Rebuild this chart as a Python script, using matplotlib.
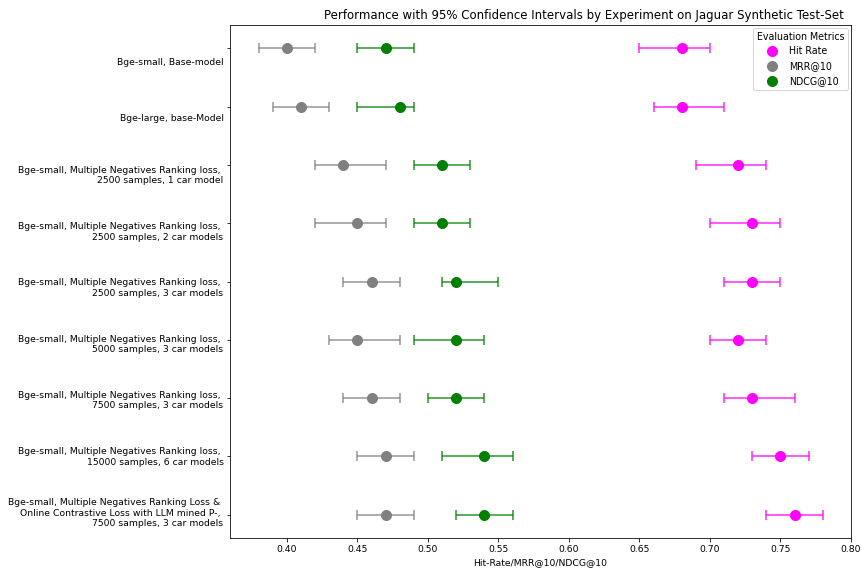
import numpy as np
import matplotlib
matplotlib.use("Agg")
import matplotlib.pyplot as plt
from matplotlib.lines import Line2D

experiments = [
    "Bge-small, Base-model",
    "Bge-large, base-Model",
    "Bge-small, Multiple Negatives Ranking loss, \n2500 samples, 1 car model",
    "Bge-small, Multiple Negatives Ranking loss, \n2500 samples, 2 car models",
    "Bge-small, Multiple Negatives Ranking loss, \n2500 samples, 3 car models",
    "Bge-small, Multiple Negatives Ranking loss, \n5000 samples, 3 car models",
    "Bge-small, Multiple Negatives Ranking loss, \n7500 samples, 3 car models",
    "Bge-small, Multiple Negatives Ranking loss, \n15000 samples, 6 car models",
    "Bge-small, Multiple Negatives Ranking Loss & \nOnline Contrastive Loss with LLM mined P-, \n7500 samples, 3 car models",
]

hit_rate = [0.68, 0.68, 0.72, 0.73, 0.73, 0.72, 0.73, 0.75, 0.76]
hit_lo   = [0.65, 0.66, 0.69, 0.70, 0.71, 0.70, 0.71, 0.73, 0.74]
hit_hi   = [0.70, 0.71, 0.74, 0.75, 0.75, 0.74, 0.76, 0.77, 0.78]

mrr    = [0.40, 0.41, 0.44, 0.45, 0.46, 0.45, 0.46, 0.47, 0.47]
mrr_lo = [0.38, 0.39, 0.42, 0.42, 0.44, 0.43, 0.44, 0.45, 0.45]
mrr_hi = [0.42, 0.43, 0.47, 0.47, 0.48, 0.48, 0.48, 0.49, 0.49]

ndcg    = [0.47, 0.48, 0.51, 0.51, 0.52, 0.52, 0.52, 0.54, 0.54]
ndcg_lo = [0.45, 0.45, 0.49, 0.49, 0.51, 0.49, 0.50, 0.51, 0.52]
ndcg_hi = [0.49, 0.49, 0.53, 0.53, 0.55, 0.54, 0.54, 0.56, 0.56]

metric_names = ["Hit Rate", "MRR@10", "NDCG@10"]
colors = ["magenta", "gray", "green"]

fig = plt.figure(figsize=(861 / 72, 570 / 72), dpi=72)
ax = fig.add_axes([230 / 861, 1 - 538 / 570, (851 - 230) / 861, (538 - 25) / 570])

y = np.arange(len(experiments))
series = [(hit_rate, hit_lo, hit_hi), (mrr, mrr_lo, mrr_hi), (ndcg, ndcg_lo, ndcg_hi)]
for (vals, lo, hi), c in zip(series, colors):
    vals = np.array(vals); lo = np.array(lo); hi = np.array(hi)
    err = np.vstack([vals - lo, hi - vals])
    eb = ax.errorbar(vals, y, xerr=err, fmt="o", color=c, ecolor=c,
                     markersize=10, capsize=5, elinewidth=1.5, capthick=1.5)
    for part in list(eb[1]) + list(eb[2]):
        part.set_alpha(0.85)

ax.invert_yaxis()
ax.set_yticks(y)
ax.set_yticklabels([])
# label positions (slightly drifting from the tick positions, as in the reference)
label_pos = 0.222 + 0.9658 * y
ax.set_yticks(label_pos, minor=True)
ax.set_yticklabels(experiments, minor=True, fontsize=9.2)
ax.tick_params(axis="y", which="minor", length=0, pad=6.5)
ax.tick_params(axis="x", which="major", labelsize=9.2)

ax.set_xticks(np.arange(0.40, 0.801, 0.05))
ax.set_xlim(0.3596, 0.80)
ax.set_xlabel("Hit-Rate/MRR@10/NDCG@10", fontsize=9.2)
ax.set_title("Performance with 95% Confidence Intervals by Experiment on Jaguar Synthetic Test-Set",
             fontsize=11.7, x=0.57)

handles = [Line2D([], [], marker="o", linestyle="none", color=c, markersize=10)
           for c in colors]
ax.legend(handles, metric_names, title="Evaluation Metrics", loc="upper right",
          fontsize=9.5, title_fontsize=9.5, borderaxespad=0.3)

fig.savefig("out.png", dpi=72)
